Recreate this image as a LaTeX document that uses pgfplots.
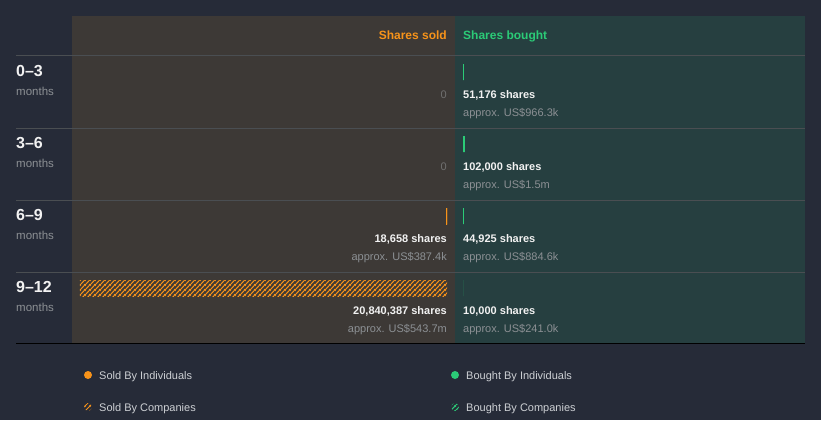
\documentclass[border=0pt]{standalone}
\usepackage{pgfplots}
\pgfplotsset{compat=1.18}
\usepackage{fontspec}
\setmainfont{Liberation Sans}
\usetikzlibrary{patterns.meta}

\definecolor{bg}{HTML}{262B38}
\definecolor{soldpanel}{HTML}{3D3936}
\definecolor{boughtpanel}{HTML}{263F40}
\definecolor{rowline}{HTML}{4A4E52}
\definecolor{baseline}{HTML}{A3A7AB}
\definecolor{sorange}{HTML}{F7931A}
\definecolor{sgreen}{HTML}{2BCB77}
\definecolor{txtwhite}{HTML}{F2F2F2}
\definecolor{txtgray}{HTML}{8C9094}
\definecolor{zerogray}{HTML}{707070}
\definecolor{legtext}{HTML}{CDD0D4}

\tikzdeclarepattern{
  name=hatch,
  type=uncolored,
  bottom left={(0pt,0pt)},
  top right={(5pt,5pt)},
  tile size={(5pt,5pt)},
  code={
    \draw[line width=1.1pt] (-1pt,-1pt) -- (6pt,6pt);
    \draw[line width=1.1pt] (-1pt,4pt) -- (1pt,6pt);
    \draw[line width=1.1pt] (4pt,-1pt) -- (6pt,1pt);
  }
}

% shares per row: 0-3, 3-6, 6-9, 9-12 months
\pgfplotstableread{
row sold
2 18658
}\soldind
\pgfplotstableread{
row sold
3 20840387
}\soldcomp
\pgfplotstableread{
row bought
0 51176
1 102000
2 44925
3 10000
}\boughtind

\pgfplotsset{
  insider/.style={
    scale only axis, hide axis, height=288pt,
    ymin=-0.2222, ymax=3.7778, y dir=reverse,
    xbar, bar width=16pt, bar shift=0pt, xmin=0,
  },
}
\tikzset{
  vl/.style={inner sep=0pt, font=\fontsize{11}{13}\selectfont},
  vw/.style={vl, text=txtwhite, font=\fontsize{11}{13}\selectfont\bfseries},
}

\begin{document}
\begin{tikzpicture}[x=1pt,y=-1pt]
% background and panels
\fill[bg] (0,0) rectangle (821,420);
\fill[soldpanel] (72,16) rectangle (455,343);
\fill[boughtpanel] (455,16) rectangle (805,343);
\foreach \yy in {56,128,200,272} \draw[rowline, line width=1pt] (16,\yy) -- (805,\yy);
\draw[baseline, line width=1pt] (16,343) -- (805,343);

% headers
\node[anchor=base east, inner sep=0pt, text=sorange, font=\fontsize{12}{14}\selectfont\bfseries] at (447,39.5) {Shares sold};
\node[anchor=base west, inner sep=0pt, text=sgreen, font=\fontsize{12}{14}\selectfont\bfseries] at (463,39.5) {Shares bought};

% row labels
\foreach \lab [count=\i from 0] in {0--3,3--6,6--9,9--12} {
  \node[anchor=base west, inner sep=0pt, text=txtwhite, font=\fontsize{16}{18}\selectfont\bfseries] at (16,{76+72*\i}) {\lab};
  \node[anchor=base west, inner sep=0pt, text=txtgray, font=\fontsize{11.5}{13}\selectfont] at (16,{95+72*\i}) {months};
}

% sold side
\begin{axis}[insider, at={(80pt,-344pt)}, anchor=south west, width=367pt,
  xmax=20840387, x dir=reverse]
\addplot[fill=sorange, draw=sorange, line width=0.8pt] table[x=sold, y=row] {\soldind};
\addplot[pattern=hatch, pattern color=sorange, draw=none] table[x=sold, y=row] {\soldcomp};
\node[vl, anchor=base east, text=zerogray, yshift=-26pt] at (axis cs:0,0) {0};
\node[vl, anchor=base east, text=zerogray, yshift=-26pt] at (axis cs:0,1) {0};
\node[vw, anchor=base east, yshift=-26pt] at (axis cs:0,2) {18,658 shares};
\node[vl, anchor=base east, text=txtgray, yshift=-44pt] at (axis cs:0,2) {approx. US\$387.4k};
\node[vw, anchor=base east, yshift=-26pt] at (axis cs:0,3) {20,840,387 shares};
\node[vl, anchor=base east, text=txtgray, yshift=-44pt] at (axis cs:0,3) {approx. US\$543.7m};
\end{axis}

% bought side
\begin{axis}[insider, at={(463pt,-344pt)}, anchor=south west, width=334pt,
  xmax=18966457]
\addplot[fill=sgreen, draw=none] table[x=bought, y=row] {\boughtind};
\node[vw, anchor=base west, yshift=-26pt] at (axis cs:0,0) {51,176 shares};
\node[vl, anchor=base west, text=txtgray, yshift=-44pt] at (axis cs:0,0) {approx. US\$966.3k};
\node[vw, anchor=base west, yshift=-26pt] at (axis cs:0,1) {102,000 shares};
\node[vl, anchor=base west, text=txtgray, yshift=-44pt] at (axis cs:0,1) {approx. US\$1.5m};
\node[vw, anchor=base west, yshift=-26pt] at (axis cs:0,2) {44,925 shares};
\node[vl, anchor=base west, text=txtgray, yshift=-44pt] at (axis cs:0,2) {approx. US\$884.6k};
\node[vw, anchor=base west, yshift=-26pt] at (axis cs:0,3) {10,000 shares};
\node[vl, anchor=base west, text=txtgray, yshift=-44pt] at (axis cs:0,3) {approx. US\$241.0k};
\end{axis}

% legend
\tikzset{lg/.style={anchor=base west, inner sep=0pt, text=legtext, font=\fontsize{11}{13}\selectfont}}
\fill[sorange] (88,375) circle (4);
\node[lg] at (99,379) {Sold By Individuals};
\fill[sgreen] (455,375) circle (4);
\node[lg] at (466,379) {Bought By Individuals};
\fill[pattern=hatch, pattern color=sorange] (88,407) circle (4);
\node[lg] at (99,411) {Sold By Companies};
\fill[pattern=hatch, pattern color=sgreen] (455,407) circle (4);
\node[lg] at (466,411) {Bought By Companies};
\end{tikzpicture}
\end{document}
